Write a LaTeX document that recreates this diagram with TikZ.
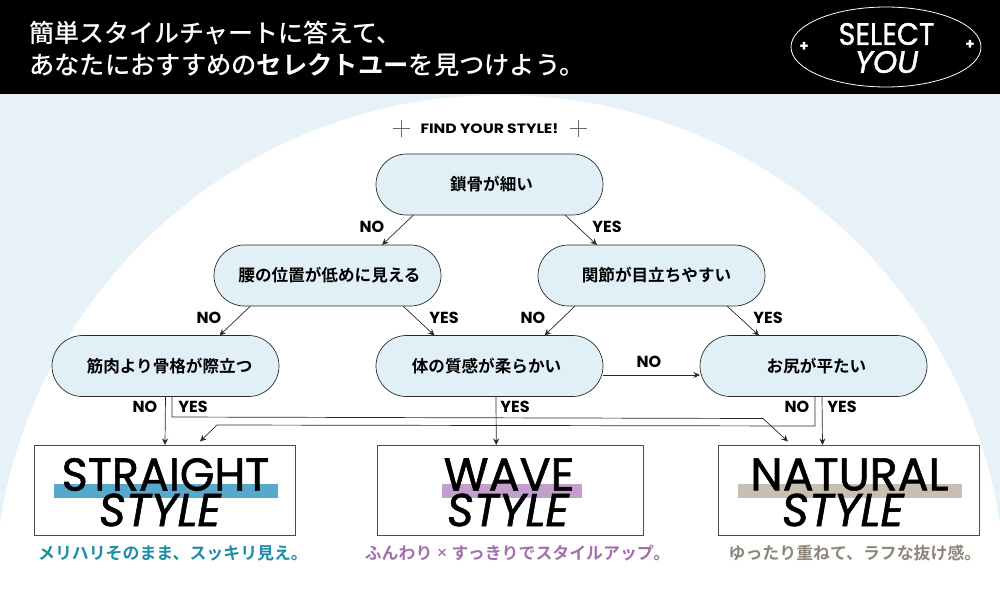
\documentclass[tikz,border=0pt]{standalone}
\usepackage{fontspec}
\usepackage{graphicx}
\usetikzlibrary{shapes.misc,shapes.geometric,arrows.meta}
\setmainfont{Poppins}
\newfontfamily\jpfont{Noto Sans CJK JP Medium}
\newfontfamily\jpbold{Noto Sans CJK JP Bold}
\newfontfamily\logofont[FakeBold=1.2]{Poppins}
\definecolor{pale}{HTML}{E6F2F8}
\definecolor{nodefill}{HTML}{E1F0F6}
\definecolor{barblue}{HTML}{56A9CB}
\definecolor{barpurple}{HTML}{C39FCD}
\definecolor{bartan}{HTML}{C8BFB1}
\definecolor{captealcol}{HTML}{1F8CA8}
\definecolor{cappurplecol}{HTML}{A46FAD}
\definecolor{capgraycol}{HTML}{8E867B}
\definecolor{linecol}{HTML}{2A2A2A}
\tikzset{
  qbox/.style={draw=linecol,line width=.7pt,fill=nodefill,rounded rectangle,rounded rectangle arc length=180,
    minimum width=227pt,minimum height=61pt,inner sep=0pt,outer sep=0pt,font=\jpbold\fontsize{16.6}{16.6}\selectfont,text=black},
  stylebox/.style={draw=linecol!85!white,line width=.8pt,fill=white,minimum height=90pt,inner sep=0pt,outer sep=0pt},
  conn/.style={draw=linecol,line width=.7pt,-{Stealth[length=6.5pt,width=6pt]}},
  lab/.style={font=\fontsize{16}{16}\selectfont\fontseries{sb}\selectfont,text=black,inner sep=0pt},
  big/.style={font=\logofont\fontsize{46}{46}\selectfont,text=black,inner sep=0pt},
  bigit/.style={font=\logofont\itshape\fontsize{46}{46}\selectfont,text=black,inner sep=0pt},
  captext/.style={font=\jpbold\fontsize{16.9}{16.9}\selectfont,inner sep=0pt},
  head/.style={font=\jpfont\fontsize{25}{25}\selectfont,text=white,inner sep=0pt,anchor=west},
  logo/.style={font=\logofont\fontsize{31}{31}\selectfont,text=white,inner sep=0pt},
  plusmark/.style={draw=linecol!70!white,line width=.5pt},
  pluswhite/.style={text=white,inner sep=0pt,font=\bfseries\fontsize{15}{15}\selectfont},
}
\begin{document}
\begin{tikzpicture}[x=1pt,y=-1pt]
\useasboundingbox (0,0) rectangle (1000,600);
% background
\fill[pale] (0,94) rectangle (1000,600);
\begin{scope}
\clip (0,94) rectangle (1000,600);
\fill[white] (500,601) circle[radius=506pt];
\end{scope}
\fill[black] (0,0) rectangle (1000,94);
% header
\node[head] (h1) at (29,33) {簡単スタイルチャートに答えて、};
\node[head,font=\jpfont\fontsize{25.3}{25.3}\selectfont] (h2) at (29,65) {あなたにおすすめの{\jpbold セレクトユー}を見つけよう。};
\node[draw=white,line width=.8pt,ellipse,minimum width=190pt,minimum height=80pt,inner sep=0pt] (badge) at (886,47) {};
\node[logo] (sel) at (886.5,34) {\scalebox{.92}[1]{SELECT}};
\node[logo,font=\logofont\itshape\fontsize{31}{31}\selectfont] (you) at (886.5,62) {YOU};
\node[pluswhite] (pl) at (804,47) {+};
\node[pluswhite] (pr) at (970,45) {+};
% title
\node[font=\bfseries\fontsize{15}{15}\selectfont,inner sep=0pt] (title) at (489.5,128.5) {\scalebox{1.04}[.9]{FIND YOUR STYLE!}};
\draw[plusmark] (393,128.5) -- (410,128.5) (401.5,120) -- (401.5,137);
\draw[plusmark] (570,128.5) -- (587,128.5) (578.5,120) -- (578.5,137);
% question nodes
\node[qbox] (root) at (489.5,184.5) {\hspace*{4pt}鎖骨が細い};
\node[qbox] (n1) at (327.5,275.5) {\hspace*{4pt}腰の位置が低めに見える};
\node[qbox] (n2) at (651.5,275.5) {\hspace*{10pt}関節が目立ちやすい};
\node[qbox] (m1) at (165.5,366) {\hspace*{8pt}筋肉より骨格が際立つ};
\node[qbox] (m2) at (489.5,366) {体の質感が柔らかい\hspace*{6pt}};
\node[qbox] (m3) at (813.5,366) {\hspace*{6pt}お尻が平たい};
% result boxes
\node[stylebox,minimum width=261pt] (bs) at (165,490) {};
\node[stylebox,minimum width=266.5pt] (bw) at (510.25,490) {};
\node[stylebox,minimum width=261pt] (bn) at (849,490) {};
\fill[barblue] (54,484) rectangle (278,498);
\fill[barpurple] (442,484) rectangle (582,498);
\fill[bartan] (738,484) rectangle (962,498);
\node[big] (t1) at (165.5,474.5) {\scalebox{.967}[1]{STRAIGHT}};
\node[bigit] (t1b) at (160,510) {STYLE};
\node[big] (t2) at (509,474.5) {WAVE};
\node[bigit] (t2b) at (508,510) {STYLE};
\node[big] (t3) at (849.5,474.5) {NATURAL};
\node[bigit] (t3b) at (843,510) {STYLE};
\node[captext,text=captealcol] (c1) at (173,553) {メリハリそのまま、スッキリ見え。};
\node[captext,text=cappurplecol] (c2) at (517.5,553) {ふんわり {\normalfont\fontsize{18}{18}\selectfont ×} すっきりでスタイルアップ。};
\node[captext,text=capgraycol] (c3) at (855,553) {ゆったり重ねて、ラフな抜け感。};
% connectors
\draw[conn] ([xshift=-76pt]root.south) -- ([xshift=54.5pt]n1.north);
\draw[conn] ([xshift=75.5pt]root.south) -- ([xshift=-54.5pt]n2.north);
\draw[conn] ([xshift=-77pt]n1.south) -- ([xshift=54pt]m1.north);
\draw[conn] ([xshift=75.5pt]n1.south) -- ([xshift=-55pt]m2.north);
\draw[conn] ([xshift=-76.5pt]n2.south) -- ([xshift=55pt]m2.north);
\draw[conn] ([xshift=75.5pt]n2.south) -- ([xshift=-54.5pt]m3.north);
\draw[conn] ([yshift=-9pt]m2.east) -- ([yshift=-9pt]m3.west);
\draw[conn] (m1.south) -- (bs.north);
\draw[conn] ([xshift=6.5pt]m2.south) -- ([xshift=-14pt]bw.north);
\draw[conn] ([xshift=8.5pt]m3.south) -- ([xshift=-26.5pt]bn.north);
\coordinate (ya) at (172,417);
\coordinate (yb) at (763,418.5);
\coordinate (ta) at (788,441.5);
\coordinate (na) at (815,426);
\coordinate (nb) at (217,425);
\coordinate (tb) at (200,441.5);
\draw[conn] ([xshift=6.5pt]m1.south) -- (ya) -- (yb) -- (ta);
\draw[conn] ([xshift=1.5pt]m3.south) -- (na) -- (nb) -- (tb);
% branch labels
\node[lab] (l1) at (372,227) {NO};
\node[lab] (l2) at (607,227) {YES};
\node[lab] (l3) at (209,318) {NO};
\node[lab] (l4) at (444,318) {YES};
\node[lab] (l5) at (533,318) {NO};
\node[lab] (l6) at (768,318) {YES};
\node[lab] (l7) at (649,362) {NO};
\node[lab] (l8) at (145,407) {NO};
\node[lab] (l9) at (193,407) {YES};
\node[lab] (l10) at (515,407) {YES};
\node[lab] (l11) at (797,407) {NO};
\node[lab] (l12) at (842,407) {YES};
\end{tikzpicture}
\end{document}
